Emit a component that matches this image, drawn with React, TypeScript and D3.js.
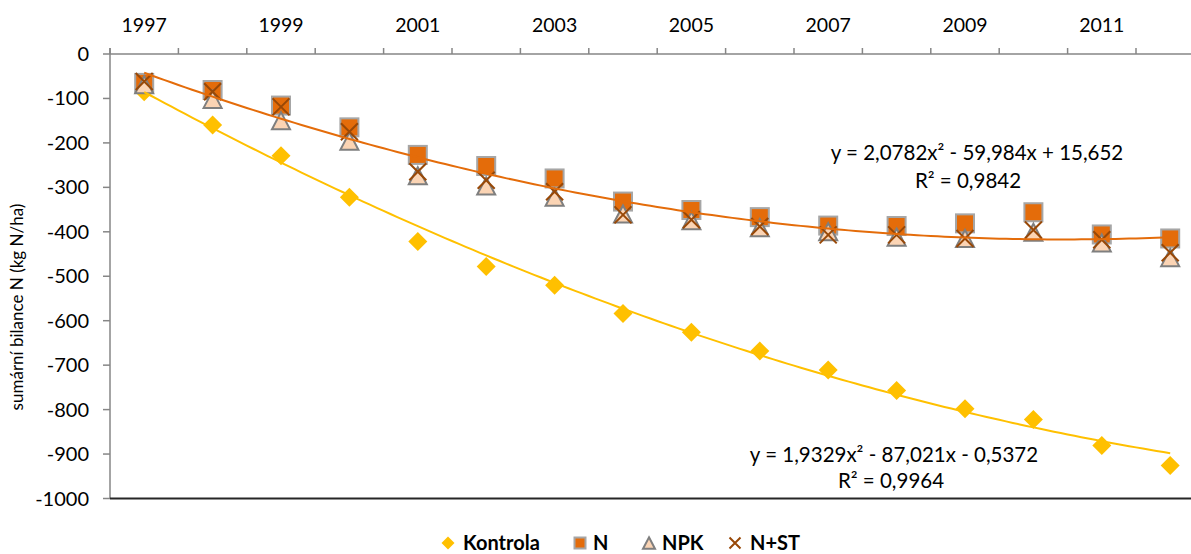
import React from "react";
import * as d3 from "d3";

const years = [1997, 1998, 1999, 2000, 2001, 2002, 2003, 2004, 2005, 2006, 2007, 2008, 2009, 2010, 2011, 2012];
const kontrola = [-85, -160, -229, -322, -422, -478, -520, -584, -626, -668, -711, -757, -798, -822, -881, -926];
const seriesN = [-65, -81, -116, -165, -227, -252, -280, -332, -351, -367, -386, -387, -381, -356, -406, -415];
const seriesNPK = [-69, -102, -150, -196, -274, -297, -322, -360, -375, -391, -400, -412, -415, -401, -425, -458];
const seriesNST = [-62, -85, -119, -175, -265, -284, -310, -362, -373, -388, -407, -407, -415, -396, -418, -447];
const yTicks = [0, -100, -200, -300, -400, -500, -600, -700, -800, -900, -1000];
const xLabelYears = [1997, 1999, 2001, 2003, 2005, 2007, 2009, 2011];
const trendKontrola = [1.9329, -87.021, -0.5372];
const trendN = [2.0782, -59.984, 15.652];
const eqKontrola = ["y = 1,9329x² - 87,021x - 0,5372", "R² = 0,9964"];
const eqN = ["y = 2,0782x² - 59,984x + 15,652", "R² = 0,9842"];
const legendItems = ["Kontrola", "N", "NPK", "N+ST"];

const W = 1191;
const H = 554;
const FONT = "Lato, 'Open Sans', sans-serif";

const C_YELLOW = "#FFC000";
const C_ORANGE = "#E46C0A";
const C_SQ_STROKE = "#A6A6A6";
const C_PEACH = "#FBD4B4";
const C_TRI_STROKE = "#7F7F7F";
const C_BROWN = "#984807";
const C_AXIS = "#868686";

const x = d3.scaleLinear().domain([0.5, 16.5]).range([110, 110 + 16 * 68.4]);
const y = d3.scaleLinear().domain([0, -1000]).range([54, 498.5]);

function Diamond({ cx, cy, r }: { cx: number; cy: number; r: number }) {
  return <path d={`M${cx},${cy - r}L${cx + r},${cy}L${cx},${cy + r}L${cx - r},${cy}Z`} fill={C_YELLOW} />;
}
function Square({ cx, cy, s }: { cx: number; cy: number; s: number }) {
  return <rect x={cx - s / 2} y={cy - s / 2} width={s} height={s} fill={C_ORANGE} stroke={C_SQ_STROKE} strokeWidth={2} />;
}
function Triangle({ cx, cy, s }: { cx: number; cy: number; s: number }) {
  const h = s * 0.95;
  return (
    <path
      d={`M${cx},${cy - h / 2}L${cx + s / 2},${cy + h / 2}L${cx - s / 2},${cy + h / 2}Z`}
      fill={C_PEACH}
      stroke={C_TRI_STROKE}
      strokeWidth={2}
      strokeLinejoin="miter"
    />
  );
}
function Cross({ cx, cy, s }: { cx: number; cy: number; s: number }) {
  const h = s / 2;
  return (
    <path d={`M${cx - h},${cy - h}L${cx + h},${cy + h}M${cx - h},${cy + h}L${cx + h},${cy - h}`} stroke={C_BROWN} strokeWidth={2} fill="none" />
  );
}

function trendPath(coef: number[]) {
  const pts: [number, number][] = [];
  for (let t = 1; t <= 16.0001; t += 0.1) {
    pts.push([t, coef[0] * t * t + coef[1] * t + coef[2]]);
  }
  return d3.line<[number, number]>().x((d) => x(d[0])).y((d) => y(d[1]))(pts) || "";
}

export default function App() {
  const xi = (i: number) => x(i + 1);
  const tickBounds = d3.range(0, 17).map((k) => 110 + k * 68.4).filter((v) => v <= W);
  return (
    <svg width={W} height={H} style={{ position: "absolute", left: 0, top: 0, background: "#fff" }} fontFamily={FONT}>
      <rect x={0} y={0} width={W} height={H} fill="#fff" />
      {/* axes */}
      <line x1={110} x2={W} y1={y(0)} y2={y(0)} stroke={C_AXIS} strokeWidth={1.5} />
      {tickBounds.map((v, i) => (
        <line key={"xt" + i} x1={v} x2={v} y1={y(0) - 6} y2={y(0)} stroke={C_AXIS} strokeWidth={1.5} />
      ))}
      <line x1={110} x2={110} y1={y(0) - 6} y2={y(-1000)} stroke={C_AXIS} strokeWidth={1.5} />
      {yTicks.map((t) => (
        <g key={"yt" + t}>
          <line x1={103} x2={110} y1={y(t)} y2={y(t)} stroke={C_AXIS} strokeWidth={1.5} />
          <text x={89} y={y(t)} dy="0.35em" textAnchor="end" fontSize={20} fill="#000">
            {t}
          </text>
        </g>
      ))}
      <line x1={110} x2={W} y1={y(-1000)} y2={y(-1000)} stroke="#262626" strokeWidth={2} />
      {xLabelYears.map((yr) => (
        <text key={"xl" + yr} x={xi(years.indexOf(yr))} y={32} textAnchor="middle" fontSize={19.5} fill="#000">
          {yr}
        </text>
      ))}
      <text transform={`translate(23,307) rotate(-90)`} textAnchor="middle" fontSize={17} fill="#000">
        sumární bilance N (kg N/ha)
      </text>

      {/* markers */}
      {kontrola.map((v, i) => (
        <Diamond key={"k" + i} cx={xi(i)} cy={y(v)} r={9.5} />
      ))}
      {seriesN.map((v, i) => (
        <Square key={"n" + i} cx={xi(i)} cy={y(v)} s={18} />
      ))}
      {seriesNPK.map((v, i) => (
        <Triangle key={"p" + i} cx={xi(i)} cy={y(v)} s={18} />
      ))}
      {seriesNST.map((v, i) => (
        <Cross key={"s" + i} cx={xi(i)} cy={y(v)} s={17} />
      ))}

      {/* trendlines */}
      <path d={trendPath(trendKontrola)} fill="none" stroke={C_YELLOW} strokeWidth={2} />
      <path d={trendPath(trendN)} fill="none" stroke={C_ORANGE} strokeWidth={2} />

      {/* equations */}
      <text x={977} y={160} textAnchor="middle" fontSize={20.5} fill="#000">{eqN[0]}</text>
      <text x={968} y={188} textAnchor="middle" fontSize={20.5} fill="#000">{eqN[1]}</text>
      <text x={894} y={462} textAnchor="middle" fontSize={20.5} fill="#000">{eqKontrola[0]}</text>
      <text x={891} y={488} textAnchor="middle" fontSize={20.5} fill="#000">{eqKontrola[1]}</text>

      {/* legend */}
      <g>
        <Diamond cx={448} cy={543} r={6.5} />
        <text x={463} y={550} fontSize={20} fontWeight="bold" fill="#000">{legendItems[0]}</text>
        <Square cx={580} cy={543} s={11} />
        <text x={593} y={550} fontSize={20} fontWeight="bold" fill="#000">{legendItems[1]}</text>
        <Triangle cx={649} cy={543} s={12} />
        <text x={662} y={550} fontSize={20} fontWeight="bold" fill="#000">{legendItems[2]}</text>
        <Cross cx={735} cy={543} s={11} />
        <text x={750} y={550} fontSize={20} fontWeight="bold" fill="#000">{legendItems[3]}</text>
      </g>
    </svg>
  );
}
